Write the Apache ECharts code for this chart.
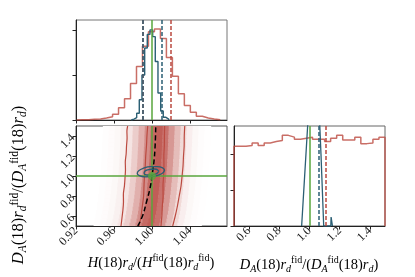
<!DOCTYPE html>
<html><head><meta charset="utf-8">
<script src="https://cdn.jsdelivr.net/npm/echarts@6/dist/echarts.min.js"></script>
<style>html,body{margin:0;padding:0;background:#fff}#c{width:415px;height:277px}</style>
</head><body><div id="c"></div>
<script>
// ---------------- data ----------------
const hTicks = [0.92, 0.96, 1.00, 1.04];
const daTicks = [0.6, 0.8, 1.0, 1.2, 1.4];
const histTicks = [0, 1, 2];

// top panel: marginal of H(18) r_d
const hRedEdges = [0.9207,0.9270,0.9333,0.9396,0.9459,0.9522,0.9585,0.9648,0.9711,0.9774,0.9837,0.9900,0.9963,1.0026,1.0089,1.0152,1.0215,1.0278,1.0341,1.0404,1.0467,1.0530,1.0593,1.0656,1.0719];
const hRedHist  = [0.007,0.007,0.015,0.022,0.044,0.073,0.13,0.27,0.47,0.81,1.19,1.64,1.96,2.02,1.81,1.39,0.97,0.58,0.32,0.17,0.082,0.044,0.022,0.007];
const hBlueEdges = [0.97821,0.98105,0.98390,0.98663,0.98947,0.99232,0.99505,0.99789,1.00074,1.00347,1.00632,1.00916,1.01189,1.01474,1.01758];
const hBlueHist  = [0.02,0.05,0.15,0.45,1.0,1.6,1.9,2.0,1.85,1.3,0.6,0.2,0.06,0.02];
const hRedQuantiles  = [0.9866, 1.0221];
const hBlueQuantiles = [0.9908, 1.0053];
const hTruth = 1.0;
const daTruth = 1.0;

// right panel: marginal of D_A(18) / r_d
const daRedEdges = [0.50,0.54,0.58,0.62,0.66,0.70,0.74,0.78,0.82,0.86,0.90,0.94,0.98,1.02,1.06,1.10,1.14,1.18,1.22,1.26,1.30,1.34,1.38,1.42,1.46,1.50];
const daRedHist  = [2.22,2.22,2.24,2.31,2.24,2.31,2.35,2.38,2.52,2.47,2.41,2.44,2.47,2.41,2.41,2.35,2.44,2.52,2.39,2.39,2.47,2.29,2.31,2.41,2.47];
const daBlueCurve = [[0.948,0],[0.958,0.7],[0.968,1.4],[0.978,2.1],[0.988,2.8],[1.0,3.8],[1.03,4.2],[1.06,3.6],[1.068,2.8],[1.076,2.0],[1.085,1.0],[1.094,0],[1.141,0],[1.143,0.25],[1.150,0.25],[1.152,0]];
const daRedQuantiles  = [1.111];
const daBlueQuantiles = [1.060];

// main panel: 2D density (column shade profile, per-row horizontal drift)
const densityRowEdges = [0.50,0.54,0.58,0.62,0.66,0.70,0.74,0.78,0.82,0.86,0.90,0.94,0.98,1.02,1.06,1.10,1.14,1.18,1.22,1.26,1.30,1.34,1.38,1.42,1.46,1.50];
const densityRowShift = [-0.0074,-0.0063,-0.0055,-0.0047,-0.0041,-0.0035,-0.0029,-0.0024,-0.0019,-0.0015,-0.0011,-0.0006,-0.0003,0,0.0003,0.0006,0.0008,0.0011,0.0013,0.0015,0.0017,0.0019,0.0020,0.0022,0.0024];
const densityShade = [0,0,0,0,0.008,0.018,0.035,0.07,0.13,0.24,0.38,0.55,0.72,0.78,0.68,0.50,0.32,0.18,0.08,0.035,0.015,0.006,0,0];

const contourOuterLeft  = [[0.9674,0.5],[0.9684,0.58],[0.9694,0.66],[0.9700,0.74],[0.9699,0.82],[0.9710,0.9],[0.9716,0.98],[0.9721,1.06],[0.9719,1.14],[0.9728,1.22],[0.9732,1.3],[0.9738,1.38],[0.9736,1.45],[0.9744,1.5]];
const contourInnerLeft  = [[0.9866,0.5],[0.9885,0.6],[0.9899,0.7],[0.9912,0.8],[0.9916,0.9],[0.9921,1.0],[0.9929,1.1],[0.9934,1.2],[0.9942,1.3],[0.9947,1.4],[0.9955,1.5]];
const contourInnerRight = [[1.0095,0.5],[1.0104,0.6],[1.0109,0.7],[1.0117,0.8],[1.0116,0.9],[1.0122,1.0],[1.0126,1.1],[1.0125,1.2],[1.0130,1.3],[1.0131,1.4],[1.0133,1.5]];
const contourOuterRight = [[1.0218,0.5],[1.0245,0.6],[1.0268,0.7],[1.0287,0.8],[1.0306,0.9],[1.0317,1.0],[1.0327,1.1],[1.0332,1.2],[1.0339,1.3],[1.0340,1.4],[1.0345,1.5]];
const degeneracyLine = [[0.9850,0.5],[0.9900,0.6],[0.9945,0.75],[0.9980,0.88],[1.0000,1.0],[1.0018,1.12],[1.0032,1.28],[1.0040,1.5]];
const blueOuter = [[1.0133,1.060],[1.0117,1.033],[1.0067,1.008],[0.9996,0.993],[0.9923,0.992],[0.9867,1.004],[0.9845,1.026],[0.9860,1.053],[0.9912,1.078],[0.9983,1.093],[1.0056,1.094],[1.0112,1.082],[1.0133,1.060]];
const blueInner = [[1.0073,1.049],[1.0037,1.019],[0.9959,1.010],[0.9917,1.031],[0.9953,1.061],[1.0031,1.070],[1.0073,1.049]];
const truthPoint = [[1.0, 1.0]];

// ---------------- styles ----------------
const RED = '#bb4a40', BLUE = '#2b5f74', GREEN = '#58a63c', AX = '#222';
const SERIF = 'Liberation Serif';

function steps(edges, vals) {
  const pts = [[edges[0], 0]];
  for (let i = 0; i < vals.length; i++) { pts.push([edges[i], vals[i]]); pts.push([edges[i + 1], vals[i]]); }
  pts.push([edges[edges.length - 1], 0]);
  return pts;
}
const cells = [];
for (let r = 0; r < densityRowShift.length; r++) {
  for (let k = 0; k < densityShade.length; k++) {
    if (densityShade[k] <= 0) continue;
    cells.push([hRedEdges[k] + densityRowShift[r], hRedEdges[k + 1] + densityRowShift[r], densityRowEdges[r], densityRowEdges[r + 1], densityShade[k]]);
  }
}
function shadeColor(a) {
  const base = [175, 48, 40];
  return 'rgb(' + base.map(c => Math.round(255 - a * (255 - c))).join(',') + ')';
}
function vline(v, color, dashed) {
  return { xAxis: v, lineStyle: { color: color, width: 1.5, type: dashed ? [4, 2] : 'solid' } };
}
function axisCommon(extra) {
  return Object.assign({
    type: 'value', splitLine: { show: false },
    axisLine: { show: true, onZero: false, lineStyle: { color: AX, width: 1 } },
    axisTick: { show: true, inside: false, length: 3.5, lineStyle: { color: AX } },
    axisLabel: { show: false }
  }, extra);
}
const labelStyle = (fmt, ticks) => ({ show: true, rotate: 45, margin: 3, fontFamily: SERIF, fontSize: 12, color: '#222', formatter: v => v.toFixed(fmt), customValues: ticks });

function makeRich(fs, ss) {
  return {
    i: { fontFamily: SERIF, fontStyle: 'italic', fontSize: fs, color: '#222', lineHeight: fs + 4 },
    n: { fontFamily: SERIF, fontSize: fs, color: '#222', lineHeight: fs + 4 },
    sub: { fontFamily: SERIF, fontStyle: 'italic', fontSize: ss, color: '#222', verticalAlign: 'bottom', lineHeight: ss + 1.5 },
    sup: { fontFamily: SERIF, fontSize: ss, color: '#222', verticalAlign: 'top', lineHeight: ss + 1.5 }
  };
}
const hLabel = '{i|H}{n|(18)}{i|r}{sub|d}{n|/(}{i|H}{sup|fid}{n|(18)}{i|r}{sub|d}{sup|fid}{n|)}';
const daLabel = '{i|D}{sub|A}{n|(18)}{i|r}{sub|d}{sup|fid}{n|/(}{i|D}{sub|A}{sup|fid}{n|(18)}{i|r}{sub|d}{n|)}';

const chart = echarts.init(document.getElementById('c'), null, { renderer: 'canvas' });
chart.setOption({
  animation: false,
  backgroundColor: '#fff',
  grid: [
    { left: 76, top: 20, width: 151, height: 100, show: true, borderColor: '#777', borderWidth: 1 },
    { left: 76, top: 126, width: 151, height: 100, show: true, borderColor: '#555', borderWidth: 1 },
    { left: 234, top: 126, width: 151, height: 100, show: true, borderColor: '#666', borderWidth: 1 }
  ],
  xAxis: [
    axisCommon({ gridIndex: 0, min: 0.92, max: 1.079, axisTick: { show: true, length: 3.5, lineStyle: { color: AX }, customValues: hTicks } }),
    axisCommon({ gridIndex: 1, min: 0.92, max: 1.079, axisTick: { show: true, length: 3.5, lineStyle: { color: AX }, customValues: hTicks }, axisLabel: labelStyle(2, hTicks) }),
    axisCommon({ gridIndex: 2, min: 0.5, max: 1.5, axisTick: { show: true, length: 3.5, lineStyle: { color: AX }, customValues: daTicks }, axisLabel: labelStyle(1, daTicks) })
  ],
  yAxis: [
    axisCommon({ gridIndex: 0, min: 0, max: 2.22, axisTick: { show: true, length: 3.5, lineStyle: { color: AX }, customValues: histTicks } }),
    axisCommon({ gridIndex: 1, min: 0.5, max: 1.5, axisTick: { show: true, length: 3.5, lineStyle: { color: AX }, customValues: daTicks }, axisLabel: labelStyle(1, daTicks) }),
    axisCommon({ gridIndex: 2, min: 0, max: 2.78, axisTick: { show: true, length: 3.5, lineStyle: { color: AX }, customValues: histTicks } })
  ],
  graphic: [
    { type: 'text', x: 151, y: 263, z: 10, style: { text: hLabel, rich: makeRich(14.5, 10), align: 'center', verticalAlign: 'middle' } },
    { type: 'text', x: 309, y: 265, z: 10, style: { text: daLabel, rich: makeRich(14.5, 10), align: 'center', verticalAlign: 'middle' } },
    { type: 'text', x: 19, y: 185, rotation: Math.PI / 2, z: 10, style: { text: daLabel, rich: makeRich(16.5, 11.5), align: 'center', verticalAlign: 'middle' } }
  ],
  series: [
    // ---- top panel
    { type: 'line', xAxisIndex: 0, yAxisIndex: 0, data: steps(hRedEdges, hRedHist), showSymbol: false, lineStyle: { color: RED, width: 1.5, opacity: 0.8 }, z: 3,
      markLine: { silent: true, symbol: 'none', label: { show: false }, data: hRedQuantiles.map(v => vline(v, RED, true)) } },
    { type: 'line', xAxisIndex: 0, yAxisIndex: 0, data: steps(hBlueEdges, hBlueHist), showSymbol: false, lineStyle: { color: BLUE, width: 1.4 }, z: 4,
      markLine: { silent: true, symbol: 'none', label: { show: false }, data: hBlueQuantiles.map(v => vline(v, BLUE, true)).concat([vline(hTruth, GREEN, false)]) } },
    // ---- main panel
    { type: 'custom', xAxisIndex: 1, yAxisIndex: 1, data: cells, z: 1, silent: true,
      encode: { x: [0, 1], y: [2, 3] },
      renderItem: function (params, api) {
        const p0 = api.coord([api.value(0), api.value(3)]);
        const p1 = api.coord([api.value(1), api.value(2)]);
        const cs = params.coordSys;
        const rect = echarts.graphic.clipRectByRect(
          { x: p0[0], y: p0[1], width: p1[0] - p0[0] + 0.6, height: p1[1] - p0[1] + 0.6 },
          { x: cs.x, y: cs.y, width: cs.width, height: cs.height });
        if (!rect) return;
        return { type: 'rect', shape: rect, style: { fill: shadeColor(api.value(4)) } };
      } },
    ...[contourOuterLeft, contourInnerLeft, contourInnerRight, contourOuterRight].map(d => ({
      type: 'line', xAxisIndex: 1, yAxisIndex: 1, data: d, showSymbol: false, smooth: 0.3, lineStyle: { color: RED, width: 1.2 }, z: 3 })),
    { type: 'line', xAxisIndex: 1, yAxisIndex: 1, data: degeneracyLine, showSymbol: false, smooth: true, lineStyle: { color: '#000', width: 1.5, type: [5, 3] }, z: 5 },
    { type: 'line', xAxisIndex: 1, yAxisIndex: 1, data: blueOuter, showSymbol: false, smooth: true, lineStyle: { color: BLUE, width: 1.3 }, z: 6 },
    { type: 'line', xAxisIndex: 1, yAxisIndex: 1, data: blueInner, showSymbol: false, smooth: true, lineStyle: { color: BLUE, width: 1.3 }, z: 6 },
    { type: 'scatter', xAxisIndex: 1, yAxisIndex: 1, data: truthPoint, symbol: 'circle', symbolSize: 8, itemStyle: { color: GREEN }, z: 8,
      markLine: { silent: true, symbol: 'none', label: { show: false }, data: [vline(hTruth, GREEN, false), { yAxis: daTruth, lineStyle: { color: GREEN, width: 1.5, type: 'solid' } }] } },
    // ---- right panel
    { type: 'line', xAxisIndex: 2, yAxisIndex: 2, data: steps(daRedEdges, daRedHist), showSymbol: false, lineStyle: { color: RED, width: 1.5, opacity: 0.8 }, z: 3,
      markLine: { silent: true, symbol: 'none', label: { show: false }, data: daRedQuantiles.map(v => vline(v, RED, true)) } },
    { type: 'line', xAxisIndex: 2, yAxisIndex: 2, data: daBlueCurve, showSymbol: false, lineStyle: { color: BLUE, width: 1.3 }, z: 4,
      markLine: { silent: true, symbol: 'none', label: { show: false }, data: daBlueQuantiles.map(v => vline(v, BLUE, true)).concat([vline(daTruth, GREEN, false)]) } }
  ]
});
</script></body></html>
